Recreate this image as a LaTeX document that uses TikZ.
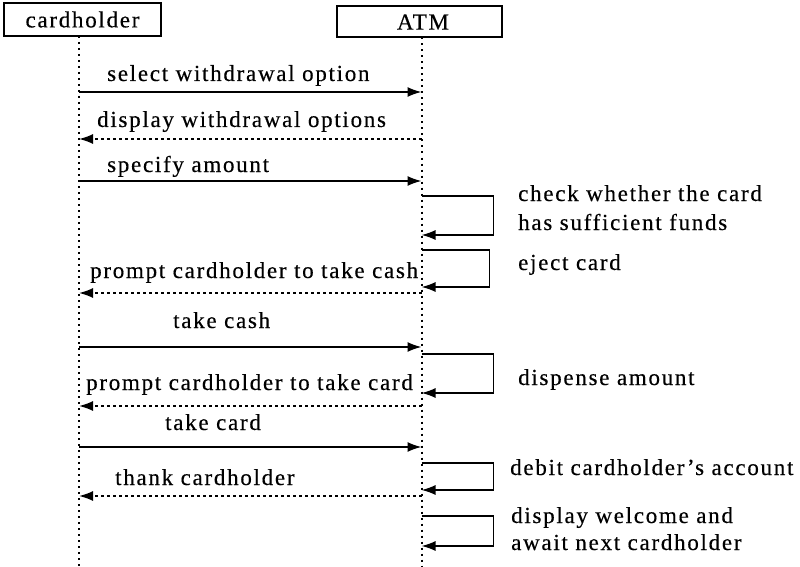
\documentclass[tikz,border=0pt]{standalone}
\usepackage{fontspec}
\setmainfont{Liberation Serif}[LetterSpace=7.5,FakeBold=0.4]
\usetikzlibrary{arrows.meta}
\begin{document}
\begin{tikzpicture}[x=1pt,y=-1pt,
  txt/.style={font=\fontsize{23}{27}\selectfont,inner sep=0pt},
  actor/.style={draw,line width=2pt,inner sep=0pt,font=\fontsize{23}{27}\selectfont},
  lbl/.style={txt,anchor=base west},
  life/.style={line width=2pt,dash pattern=on 2pt off 4pt},
  msg/.style={line width=1.6pt,-{Latex[length=14pt,width=10pt]}},
  ret/.style={msg,dash pattern=on 3pt off 3pt}]
\useasboundingbox (0,0) rectangle (800,567);

% actors
\node[actor,minimum width=157pt,minimum height=33pt] (ch) at (82.5,19.5) {cardholder};
\node[actor,minimum width=165pt,minimum height=31pt] (atm) at (419,22) {\hspace*{8pt}ATM};

% lifelines
\coordinate (chTop) at (79,36);
\coordinate (chBot) at (79,567);
\coordinate (atTop) at (421.5,37.5);
\coordinate (atBot) at (421.5,567);
\draw[life] (chTop) -- (chBot);
\draw[life] (atTop) -- (atBot);

% message anchor points
\foreach \n/\y in {m1/92,m2/139,m3/181,m6/293,m7/347,m9/406,m10/447,m12/496}{
  \coordinate (c\n) at (79,\y);
  \coordinate (a\n) at (421.5,\y);
}

% messages
\draw[msg] (cm1) -- (am1);
\node[lbl] (t1) at (107,81) {select withdrawal option};
\draw[ret] (am2) -- (cm2);
\node[lbl] (t2) at (97,127) {display withdrawal options};
\draw[msg] (cm3) -- (am3);
\node[lbl] (t3) at (107,172) {specify amount};
\draw[ret] (am6) -- (cm6);
\node[lbl] (t6) at (90,278) {prompt cardholder to take cash};
\draw[msg] (cm7) -- (am7);
\node[lbl] (t7) at (173,328) {take cash};
\draw[ret] (am9) -- (cm9);
\node[lbl] (t9) at (86,390) {prompt cardholder to take card};
\draw[msg] (cm10) -- (am10);
\node[lbl] (t10) at (165,430) {take card};
\draw[ret] (am12) -- (cm12);
\node[lbl] (t12) at (115,485) {thank cardholder};

% self messages
\foreach \n/\ya/\yb/\w in {s4/196/235/72,s5/250/287/68,s8/354/393/72,s11/463/490/72,s13/516/546/72}{
  \coordinate (\n a) at (421.5,\ya);
  \coordinate (\n b) at (421.5,\yb);
  \draw[msg] (\n a) -- ++(\w,0) |- (\n b);
}
\node[lbl] (n4a) at (518,201) {check whether the card};
\node[lbl] (n4b) at (518,230) {has sufficient funds};
\node[lbl] (n5) at (518,270) {eject card};
\node[lbl] (n8) at (518,385) {dispense amount};
\node[lbl] (n11) at (510,475) {debit cardholder's account};
\node[lbl] (n13a) at (511,523) {display welcome and};
\node[lbl] (n13b) at (511,550) {await next cardholder};
\end{tikzpicture}
\end{document}
